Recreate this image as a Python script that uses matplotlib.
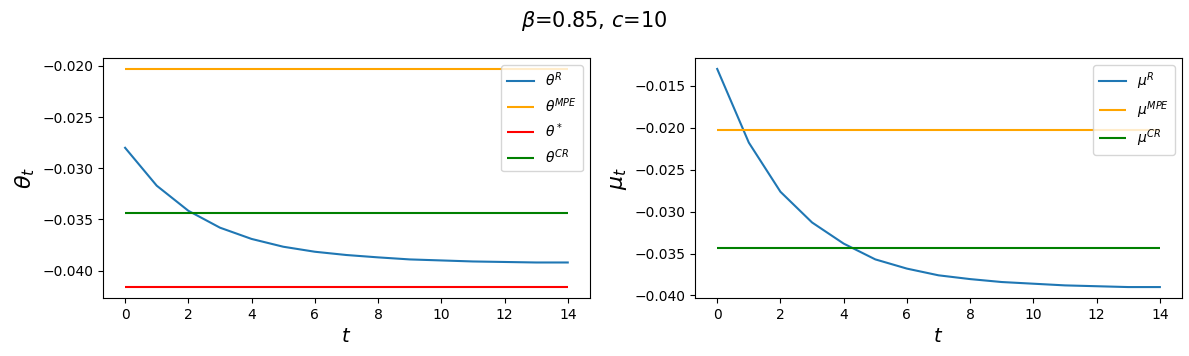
import numpy as np
import matplotlib.pyplot as plt

# values
t = np.arange(15)
theta_R = [-0.0280, -0.0317, -0.03415, -0.0358, -0.0369, -0.03766, -0.03815, -0.03847,
           -0.0387, -0.0389, -0.0390, -0.0391, -0.03915, -0.0392, -0.0392]
theta_MPE = -0.0203
theta_star = -0.0416
theta_CR = -0.0344

mu_R = [-0.0130, -0.02178, -0.02764, -0.0313, -0.03382, -0.0357, -0.0368, -0.0376,
        -0.03805, -0.0384, -0.0386, -0.0388, -0.0389, -0.0390, -0.0390]
mu_MPE = -0.0203
mu_CR = -0.0344

fig, (ax1, ax2) = plt.subplots(1, 2, figsize=(11.89, 3.56))

ax1.plot(t, theta_R, label=r'$\theta^R$')
ax1.hlines(theta_MPE, t[0], t[-1], color='orange', label=r'$\theta^{MPE}$')
ax1.hlines(theta_star, t[0], t[-1], color='red', label=r'$\theta^*$')
ax1.hlines(theta_CR, t[0], t[-1], color='green', label=r'$\theta^{CR}$')
ax1.set_xlabel(r'$t$', fontsize=14)
ax1.set_ylabel(r'$\theta_t$', fontsize=16)
ax1.legend(loc='upper right')

ax2.plot(t, mu_R, label=r'$\mu^R$')
ax2.hlines(mu_MPE, t[0], t[-1], color='orange', label=r'$\mu^{MPE}$')
ax2.hlines(mu_CR, t[0], t[-1], color='green', label=r'$\mu^{CR}$')
ax2.set_xlabel(r'$t$', fontsize=14)
ax2.set_ylabel(r'$\mu_t$', fontsize=16)
ax2.legend(loc='upper right')

fig.suptitle(r'$\beta$=0.85, $c$=10', fontsize=15, y=0.975)
fig.subplots_adjust(left=0.0866, right=0.9941, top=0.837, bottom=0.163, wspace=0.216)
fig.savefig('out.png', dpi=100)
plt.close(fig)
